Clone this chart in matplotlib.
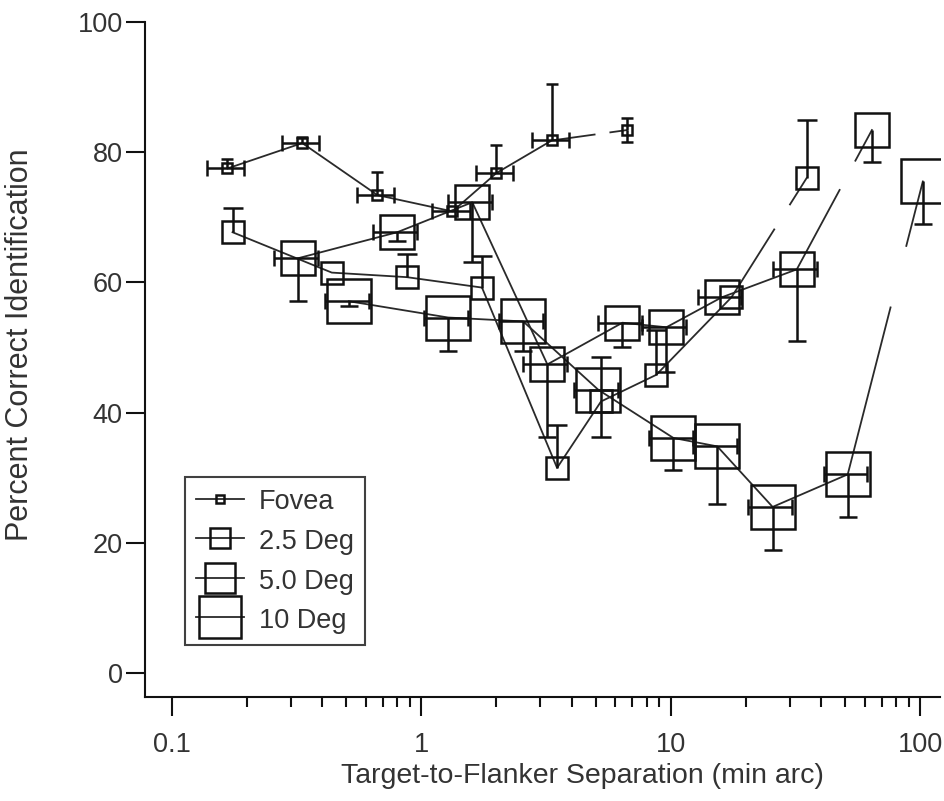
import numpy as np
import matplotlib
matplotlib.use("Agg")
import matplotlib.pyplot as plt
from matplotlib.lines import Line2D
from matplotlib.ticker import FixedLocator, NullFormatter

plt.rcParams['font.family'] = ['Liberation Sans', 'DejaVu Sans']

# Target-to-flanker separation (min arc) and percent correct, per eccentricity
fovea_x = [0.167, 0.333, 0.667, 1.333, 2.0, 3.333, 6.667]
fovea_y = [77.5, 81.4, 73.4, 70.9, 76.8, 81.8, 83.4]
fovea_up = [1.4, 1.0, 3.5, 0, 4.3, 8.6, 1.8]
fovea_dn = [0, 0, 0, 0, 0, 0, 1.8]

deg25_x = [0.175, 0.4375, 0.875, 1.75, 3.5, 5.25, 8.75, 17.5, 35.0]
deg25_y = [67.7, 61.5, 60.8, 59.2, 31.5, 41.7, 45.8, 57.7, 76.0]
deg25_up = [3.7, 0, 3.5, 4.8, 6.6, 6.9, 6.9, 0, 8.9]
deg25_dn = [0, 0, 0, 0, 0, 5.5, 0, 0, 0]

deg5_x = [0.32, 0.8, 1.6, 3.2, 6.4, 9.6, 16.0, 32.0, 64.0]
deg5_y = [63.7, 67.7, 72.3, 47.4, 53.8, 53.1, 57.7, 62.0, 83.4]
deg5_up = [0, 0, 0, 0, 0, 0, 0, 0, 0]
deg5_dn = [6.6, 1.4, 9.1, 11.2, 3.7, 6.9, 0, 11.0, 4.9]

deg10_x = [0.512, 1.28, 2.56, 5.12, 10.24, 15.36, 25.6, 51.2, 102.4]
deg10_y = [57.1, 54.6, 54.0, 43.5, 36.1, 34.8, 25.5, 30.5, 75.5]
deg10_up = [0, 0, 0, 0, 0, 0, 0, 0, 0]
deg10_dn = [0.8, 5.2, 4.5, 0, 4.9, 8.9, 6.6, 6.6, 6.6]

labels = ["Fovea", "2.5 Deg", "5.0 Deg", "10 Deg"]

INK = "#111111"
LINE = "#2a2a2a"
TXT = "#333333"

fig = plt.figure(figsize=(9.44, 8.01), dpi=100)
ax = fig.add_axes([145 / 944, 104 / 801, 795 / 944, 675 / 801])


def draw_series(x, y, up, dn, msize, xfrac, ycap):
    x = np.asarray(x, float)
    y = np.asarray(y, float)
    up = np.asarray(up, float)
    dn = np.asarray(dn, float)
    # connecting line, last segment has a break in it like the original
    lx = np.log10(x)
    t0, t1 = 0.57, 0.78
    xa = 10 ** (lx[-2] + t0 * (lx[-1] - lx[-2]))
    xb = 10 ** (lx[-2] + t1 * (lx[-1] - lx[-2]))
    ya = y[-2] + t0 * (y[-1] - y[-2])
    yb = y[-2] + t1 * (y[-1] - y[-2])
    xs = np.concatenate([x[:-1], [xa, np.nan, xb, x[-1]]])
    ys = np.concatenate([y[:-1], [ya, np.nan, yb, y[-1]]])
    ax.plot(xs, ys, color=LINE, lw=1.3, zorder=2)

    # vertical error bars (one-sided where the original only shows one side)
    m = up > 0
    ax.vlines(x[m], y[m], y[m] + up[m], color=INK, lw=1.8, zorder=3)
    ax.plot(x[m], y[m] + up[m], ls="none", marker="_", ms=ycap, mew=1.8, color=INK, zorder=3)
    m = dn > 0
    ax.vlines(x[m], y[m] - dn[m], y[m], color=INK, lw=1.8, zorder=3)
    ax.plot(x[m], y[m] - dn[m], ls="none", marker="_", ms=ycap, mew=1.8, color=INK, zorder=3)

    # horizontal error bars (none on the last point)
    if xfrac > 0:
        xe, ye = x[:-1], y[:-1]
        ax.hlines(ye, xe * (1 - xfrac), xe * (1 + xfrac), color=INK, lw=1.8, zorder=3)
        ax.plot(np.concatenate([xe * (1 - xfrac), xe * (1 + xfrac)]), np.concatenate([ye, ye]),
                ls="none", marker="|", ms=12, mew=1.8, color=INK, zorder=3)

    ax.plot(x, y, ls="none", marker="s", ms=msize, mfc="none", mec=INK, mew=1.8, zorder=4)


draw_series(fovea_x, fovea_y, fovea_up, fovea_dn, 7, 0.17, 9)
draw_series(deg25_x, deg25_y, deg25_up, deg25_dn, 16, 0, 14)
draw_series(deg5_x, deg5_y, deg5_up, deg5_dn, 24, 0.2, 13)
draw_series(deg10_x, deg10_y, deg10_up, deg10_dn, 31, 0.2, 13)

ax.set_xscale("log")
ax.set_xlim(0.078, 120)
ax.set_ylim(-3.7, 100)
ax.xaxis.set_major_locator(FixedLocator([0.1, 1, 10, 100]))
ax.set_xticklabels(["0.1", "1", "10", "100"])
minor = [k * 10.0 ** d for d in (-1, 0, 1) for k in range(2, 10)]
ax.xaxis.set_minor_locator(FixedLocator(minor))
ax.xaxis.set_minor_formatter(NullFormatter())
ax.set_yticks([0, 20, 40, 60, 80, 100])

for s in ["top", "right"]:
    ax.spines[s].set_visible(False)
for s in ["left", "bottom"]:
    ax.spines[s].set_linewidth(1.5)
    ax.spines[s].set_color(INK)

ax.tick_params(axis="x", which="major", direction="out", length=14, width=1.5,
               pad=11, labelsize=19.5, colors=INK, labelcolor=TXT)
ax.tick_params(axis="x", which="minor", direction="out", length=7, width=1.5, colors=INK)
ax.tick_params(axis="y", which="major", direction="out", length=14, width=1.5,
               pad=2, labelsize=19.5, colors=INK, labelcolor=TXT)

fig.text(582 / 944, (801 - 776) / 801, "Target-to-Flanker Separation (min arc)",
         ha="center", va="center", fontsize=20.5, color=TXT)
fig.text(20 / 944, (801 - 345) / 801, "Percent Correct Identification",
         ha="center", va="center", rotation=90, fontsize=22, color=TXT)

handles = [Line2D([], [], color=LINE, lw=1.3, marker="s", ms=ms, mfc="none", mec=INK, mew=1.8)
           for ms in [6, 15, 22, 30]]
leg = ax.legend(handles, labels, loc="lower left", bbox_to_anchor=(0.05, 0.077),
                borderaxespad=0, fontsize=19.5, frameon=True, fancybox=False,
                handlelength=1.8, handleheight=1.0, handletextpad=0.55,
                labelspacing=0.45, borderpad=0.4)
leg.get_frame().set_edgecolor(INK)
leg.get_frame().set_linewidth(1.5)
for t in leg.get_texts():
    t.set_color(TXT)

fig.savefig("out.png", dpi=100)
